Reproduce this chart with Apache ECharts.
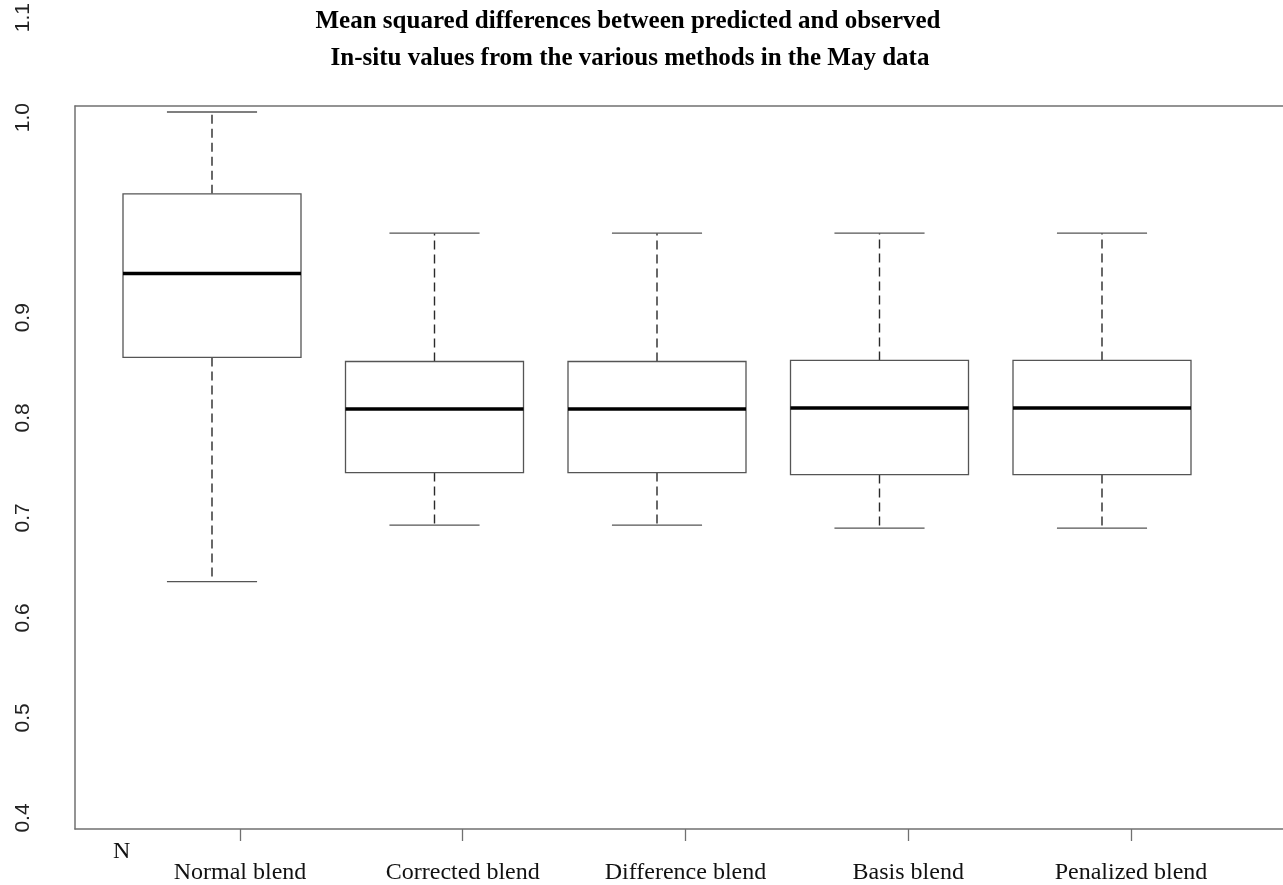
<!DOCTYPE html>
<html>
<head>
<meta charset="utf-8">
<script src="https://cdn.jsdelivr.net/npm/echarts@6/dist/echarts.min.js"></script>
<style>
html,body{margin:0;padding:0;background:#fff;}
#chart{width:1283px;height:885px;}
</style>
</head>
<body>
<div id="chart"></div>
<script>
// ---- data ----
const categories = ['Normal blend', 'Corrected blend', 'Difference blend', 'Basis blend', 'Penalized blend'];
const lowerWhisker  = [0.634, 0.690, 0.690, 0.687, 0.687];
const lowerQuartile = [0.856, 0.742, 0.742, 0.740, 0.740];
const medians       = [0.939, 0.805, 0.805, 0.806, 0.806];
const upperQuartile = [1.018, 0.852, 0.852, 0.853, 0.853];
const upperWhisker  = [1.099, 0.979, 0.979, 0.979, 0.979];
const yTickLabels = ['0.4', '0.5', '0.6', '0.7', '0.8', '0.9', '', '1.0', '1.1'];
const xTickValues = [1, 2, 3, 4, 5];
const titleLines = ['Mean squared differences between predicted and observed',
                    'In-situ values from the various methods in the May data'];
const strayLabel = 'N';

const chart = echarts.init(document.getElementById('chart'), null, {renderer: 'canvas'});

const boxData = categories.map((c, i) => [i, lowerWhisker[i], lowerQuartile[i], medians[i], upperQuartile[i], upperWhisker[i]]);

const frameColor = '#707070';
const serif = '"Liberation Serif", "Times New Roman", serif';
const sans = '"Liberation Sans", Arial, sans-serif';

function renderBox(params, api) {
  const i = api.value(0);
  const pLo = api.coord([i, api.value(1)]);
  const pQ1 = api.coord([i, api.value(2)]);
  const pMd = api.coord([i, api.value(3)]);
  const pQ3 = api.coord([i, api.value(4)]);
  const pHi = api.coord([i, api.value(5)]);
  const band = api.size([1, 0])[0];
  const bw = band * 0.8;
  const cw = band * 0.405;
  const x = pMd[0];
  const dash = {stroke: '#2a2a2a', lineWidth: 1.4, lineDash: [9, 5]};
  const solid = {stroke: '#555', lineWidth: 1.3};
  return {
    type: 'group',
    children: [
      {type: 'line', shape: {x1: x, y1: pQ3[1], x2: x, y2: pHi[1]}, style: dash},
      {type: 'line', shape: {x1: x, y1: pQ1[1], x2: x, y2: pLo[1]}, style: dash},
      {type: 'line', shape: {x1: x - cw / 2, y1: pHi[1], x2: x + cw / 2, y2: pHi[1]}, style: solid},
      {type: 'line', shape: {x1: x - cw / 2, y1: pLo[1], x2: x + cw / 2, y2: pLo[1]}, style: solid},
      {type: 'rect', shape: {x: x - bw / 2, y: pQ3[1], width: bw, height: pQ1[1] - pQ3[1]},
       style: {fill: '#fff', stroke: '#555', lineWidth: 1.3}},
      {type: 'line', shape: {x1: x - bw / 2, y1: pMd[1], x2: x + bw / 2, y2: pMd[1]},
       style: {stroke: '#000', lineWidth: 3.5}}
    ]
  };
}

const lineStyle = {color: frameColor, width: 1.5};

const option = {
  backgroundColor: '#fff',
  animation: false,
  grid: [
    // frame + x axis (right side runs off the canvas, no right border)
    {left: 75, top: 106, right: 0, bottom: 49, show: false},
    // y tick labels
    {left: 75, width: 1, top: 10, bottom: 67},
    // boxes
    {left: 100.75, width: 1112.5, top: 111, bottom: 67}
  ],
  xAxis: [
    {
      type: 'value', gridIndex: 0, position: 'bottom', min: 0.2593, max: 0.2593 + (1283 - 75) / 222.75,
      splitLine: {show: false}, axisLine: {show: true, onZero: false, lineStyle: lineStyle},
      axisTick: {show: true, length: 12, customValues: xTickValues, lineStyle: {color: frameColor, width: 1.3}},
      axisLabel: {show: true, customValues: xTickValues, margin: 32, fontFamily: serif, fontSize: 24, color: '#111',
                  formatter: v => categories[Math.round(v) - 1] || ''}
    },
    {type: 'value', gridIndex: 1, show: false},
    {type: 'category', gridIndex: 2, data: categories, show: false},
    {
      type: 'value', gridIndex: 0, position: 'top', min: 0, max: 1,
      splitLine: {show: false}, axisLine: {show: true, onZero: false, lineStyle: lineStyle},
      axisTick: {show: false}, axisLabel: {show: false}
    }
  ],
  yAxis: [
    {
      type: 'value', gridIndex: 0, position: 'left', min: 0, max: 1,
      splitLine: {show: false}, axisLine: {show: true, onZero: false, lineStyle: lineStyle},
      axisTick: {show: false}, axisLabel: {show: false}
    },
    {
      type: 'category', gridIndex: 1, data: yTickLabels, boundaryGap: false,
      axisLine: {show: false}, axisTick: {show: false}, splitLine: {show: false},
      axisLabel: {show: true, interval: 0, rotate: 90, margin: 41, fontFamily: sans, fontSize: 21, color: '#222'}
    },
    {type: 'value', gridIndex: 2, min: 0.4, max: 1.1, show: false}
  ],
  series: [
    {
      type: 'custom', xAxisIndex: 2, yAxisIndex: 2,
      data: boxData,
      encode: {x: 0, y: [1, 2, 3, 4, 5]},
      renderItem: renderBox,
      clip: false
    }
  ],
  graphic: [
    {type: 'text', x: 628, y: 9, style: {text: titleLines[0], textAlign: 'center', textVerticalAlign: 'top',
      font: 'bold 25px ' + serif, fill: '#000'}},
    {type: 'text', x: 630, y: 46, style: {text: titleLines[1], textAlign: 'center', textVerticalAlign: 'top',
      font: 'bold 25px ' + serif, fill: '#000'}},
    {type: 'text', x: 113, y: 840, style: {text: strayLabel, textAlign: 'left', textVerticalAlign: 'top',
      font: '24px ' + serif, fill: '#111'}}
  ]
};
chart.setOption(option);
</script>
</body>
</html>
